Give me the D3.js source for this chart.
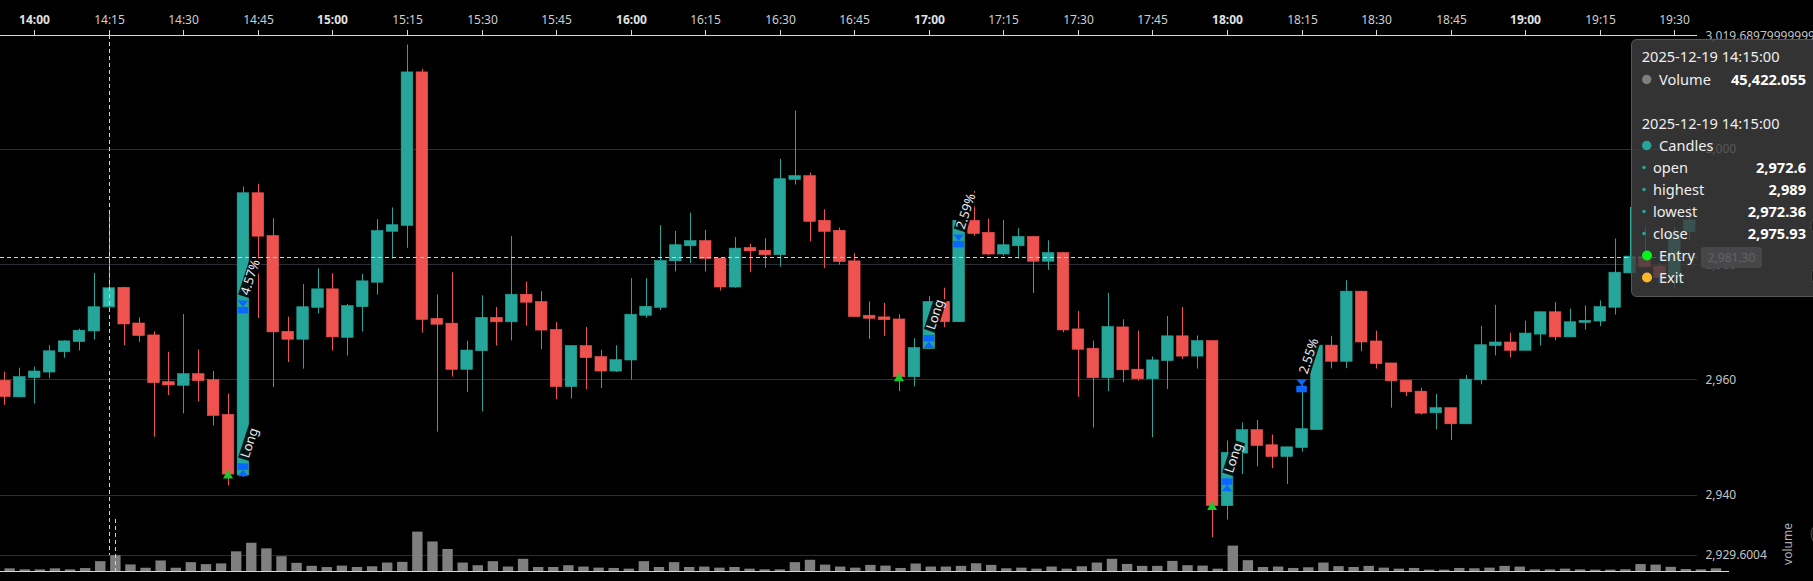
<!DOCTYPE html>
<html><head><meta charset="utf-8">
<script src="https://cdn.jsdelivr.net/npm/d3@7/dist/d3.min.js"></script>
<style>html,body{margin:0;padding:0;background:#000;overflow:hidden}svg{display:block;font-family:"Noto Sans","Open Sans",sans-serif}</style>
</head><body><svg id="c" width="1813" height="581"></svg>
<script>
// ---------- data ----------
const startTime = "2025-12-19 13:54:00";
const stepMinutes = 3;
const opens  = [2959.86,2956.98,2960.32,2961.29,2964.81,2966.59,2968.43,2972.6,2976.0,2969.81,
2967.74,2959.63,2958.99,2961.01,2959.97,2953.93,2943.45,2992.43,2985.0,2968.37,
2966.99,2972.52,2975.74,2967.32,2972.65,2976.89,2985.74,2986.76,3013.42,2970.61,
2969.78,2961.76,2964.99,2970.79,2970.01,2974.8,2973.54,2968.7,2958.77,2965.89,
2963.98,2961.46,2963.38,2971.15,2972.53,2980.6,2983.22,2984.12,2981.07,2976.06,
2982.93,2982.45,2981.67,2994.75,2995.4,2987.64,2985.91,2980.6,2971.16,2970.87,
2970.51,2960.48,2965.37,2973.55,2970.03,2987.64,2985.55,2981.79,2983.22,2984.84,
2980.54,2982.03,2968.78,2965.43,2960.3,2969.13,2961.79,2960.12,2963.28,2967.58,
2964.06,2966.75,2938.09,2947.22,2951.28,2948.66,2946.63,2948.18,2951.28,2965.97,
2963.16,2975.34,2966.69,2962.87,2959.88,2957.97,2954.21,2955.1,2952.3,2959.94,
2965.91,2966.51,2965.07,2967.88,2971.76,2967.4,2969.91,2970.15,2972.54,2978.51,
2981.37,2979.7,2977.8,2985.65];
const highs  = [2961.35,2962.04,2962.22,2965.96,2966.8,2968.83,2978.5,2989,2976.1,2970.79,
2968.37,2964.81,2971.37,2965.21,2961.47,2957.55,2993.5,2993.99,2988.0,2970.91,
2976.55,2979.31,2978.45,2973.12,2978.33,2987.83,2989.87,3018.18,3013.96,2974.74,
2978.62,2966.73,2974.62,2972.59,2984.9,2977.01,2975.34,2969.96,2965.95,2969.12,
2965.17,2965.95,2977.61,2977.61,2986.82,2985.79,2988.96,2985.97,2981.1,2984.72,
2983.58,2984.54,2998.33,3006.69,2995.94,2989.55,2986.39,2981.97,2973.55,2973.31,
2971.34,2967.16,2974.51,2975.94,2987.64,2992.72,2987.94,2987.7,2986.27,2984.96,
2984.18,2982.15,2971.88,2966.75,2975.04,2970.45,2968.48,2964.0,2971.04,2972.6,
2967.64,2966.8,2949.37,2952.54,2952.96,2950.45,2948.3,2959.1,2965.97,2967.58,
2977.25,2975.4,2968.48,2962.9,2959.9,2958.57,2957.49,2955.1,2960.78,2969.31,
2972.96,2968.12,2970.21,2971.8,2973.43,2972.3,2972.84,2973.73,2984.48,2989.97,
2986.57,2980.2,2986.5,2990.0];
const lows   = [2955.6,2956.9,2955.83,2960.2,2963.77,2965.04,2966.94,2972.36,2965.96,2966.53,
2950.07,2957.27,2954.1,2956.17,2952.03,2941.61,2943.05,2970.68,2958.7,2963.02,
2961.87,2971.48,2965.04,2964.16,2968.34,2974.74,2981.02,2982.87,2968.16,2950.94,
2960.51,2957.82,2954.47,2965.89,2966.79,2969.36,2965.23,2956.56,2956.68,2958.3,
2958.53,2961.3,2959.97,2970.73,2972.05,2978.75,2980.24,2978.75,2975.46,2975.94,
2978.63,2979.4,2979.58,2993.85,2984.0,2979.34,2979.94,2970.9,2967.04,2967.58,
2957.97,2958.81,2965.37,2969.07,2970.03,2984.96,2981.61,2981.5,2981.01,2975.04,
2979.04,2968.18,2957.01,2951.64,2957.97,2959.52,2959.82,2949.97,2958.33,2963.58,
2961.91,2932.6,2935.7,2943.58,2944.9,2944.6,2941.85,2947.46,2951.28,2961.91,
2961.97,2964.9,2961.91,2955.1,2957.13,2953.9,2951.34,2949.49,2952.3,2959.16,
2964.18,2963.88,2965.07,2965.91,2966.81,2967.4,2968.66,2969.25,2971.28,2978.5,
2979.3,2976.6,2975.7,2984.2];
const closes = [2957.04,2960.49,2961.47,2964.98,2966.7,2968.55,2972.63,2975.93,2969.64,2967.63,
2959.45,2959.05,2961.01,2959.8,2953.76,2943.57,2992.43,2984.89,2968.26,2966.99,
2972.63,2975.74,2967.4,2972.83,2977.13,2985.86,2986.88,3013.42,2970.43,2969.6,
2961.76,2965.11,2970.79,2970.01,2974.8,2973.42,2968.58,2958.77,2965.89,2963.8,
2961.46,2963.44,2971.33,2972.71,2980.66,2983.4,2984.12,2981.01,2976.06,2982.81,
2982.33,2981.67,2994.87,2995.4,2987.46,2985.73,2980.48,2970.93,2970.63,2970.39,
2960.48,2965.55,2973.55,2970.03,2987.64,2985.37,2981.79,2983.4,2984.84,2980.54,
2982.03,2968.6,2965.25,2960.3,2969.19,2961.67,2960.12,2963.4,2967.58,2964.06,
2966.75,2938.09,2947.34,2951.28,2948.54,2946.63,2948.3,2951.46,2965.97,2963.16,
2975.34,2966.51,2962.75,2959.76,2957.85,2954.15,2955.1,2952.3,2960.06,2966.03,
2966.51,2965.07,2968.06,2971.76,2967.4,2970.03,2970.27,2972.66,2978.63,2981.43,
2979.58,2977.75,2985.2,2987.7];
const volumes = [7700,4800,4800,7700,4800,8500,28400,45422.055,19000,9400,
30400,9400,25500,19900,21900,56800,81500,65300,42600,23600,
15000,11400,15600,11600,13600,24400,26400,113600,85200,63600,
24400,16700,28400,12800,35200,11600,11600,16700,12800,9700,
8800,6800,28400,11600,25500,11600,12800,9700,11600,6800,
4800,4800,25500,32400,18500,12800,9700,17600,15600,8800,
21600,12800,12800,14800,22400,17600,7900,9700,6800,12800,
6800,13600,24400,35200,20400,14800,14800,29200,16700,15600,
6800,73200,31200,11600,12800,8800,10800,24400,14000,11600,
14800,9700,6800,8800,4000,4000,8800,7900,9700,14800,
12800,4800,4800,6800,4800,4000,4000,5000,20000,18500,
12000,5700,4800,7700];
const tickLabels = ["14:00","14:15","14:30","14:45","15:00","15:15","15:30","15:45","16:00","16:15","16:30","16:45",
"17:00","17:15","17:30","17:45","18:00","18:15","18:30","18:45","19:00","19:15","19:30"];
const yTicks = [2940, 2960, 2980, 3000];
const yMin = 2929.6004, yMax = 3019.68979999999;
const volMax = 150000;
// trades
const signalIdx  = [15, 60, 81];
const entryIdx   = [16, 62, 82];
const entryPrice = [2944.3, 2966.6, 2941.7];
const exitIdx    = [16, 64, 87];
const exitPrice  = [2972.6, 2984.06, 2958.9];
const sideLabels = ["Long", "Long", "Long"];
const pnlLabels  = ["4.57%", "2.59%", "2.55%"];
// hover state
const hoverIdx = 7;
const hoverPrice = 2981.30;

// ---------- helpers ----------
const parse = d3.timeParse("%Y-%m-%d %H:%M:%S");
const fmtFull = d3.timeFormat("%Y-%m-%d %H:%M:%S");
const fmtHM = d3.timeFormat("%H:%M");
const t0 = parse(startTime);
const times = opens.map((_, i) => d3.timeMinute.offset(t0, i * stepMinutes));
function fmtNum(v){ const s = String(v).split("."); s[0] = s[0].replace(/\B(?=(\d{3})+(?!\d))/g, ","); return s.join("."); }

// ---------- scales ----------
const svg = d3.select("#c");
const xP = d3.scaleLinear().domain([-0.295, 113.52]).range([0, 1697]);
const xV = d3.scaleLinear().domain([-0.64, 113.86]).range([0, 1729]);
const yP = d3.scaleLinear().domain([yMin, yMax]).range([554.5, 35.8]);
const yV = d3.scaleLinear().domain([0, volMax]).range([571, 519]);
const UP = "#26a69a", DOWN = "#ef5350";

svg.append("rect").attr("width",1813).attr("height",581).attr("fill","#000");

// grid + y labels
const gridVals = yTicks.concat([yMin]);
svg.append("g").selectAll("line").data(gridVals).join("line")
  .attr("x1",0).attr("x2",1697).attr("y1",d=>Math.round(yP(d))+0.5).attr("y2",d=>Math.round(yP(d))+0.5)
  .attr("stroke","#2c2e36").attr("stroke-width",1);
svg.append("g").selectAll("text").data(gridVals.concat([yMax])).join("text")
  .attr("x",1705.5).attr("y",d=>yP(d)).attr("dy","0.35em")
  .attr("fill","#c4c4c4").attr("font-size",12).text(d=>fmtNum(d));

// volume
svg.append("g").selectAll("rect").data(volumes).join("rect")
  .attr("x",(d,i)=>xV(i)-5.2).attr("width",10.4)
  .attr("y",d=>yV(d)).attr("height",d=>yV(0)-yV(d)).attr("fill","#7f7f7f");
svg.append("line").attr("x1",0).attr("x2",1729).attr("y1",571.5).attr("y2",571.5).attr("stroke","#d8d8d8");
svg.append("text").attr("transform","translate(1792,544) rotate(-90)").attr("text-anchor","middle")
  .attr("fill","#b0b0b0").attr("font-size",12).text("volume");

// candles
const cg = svg.append("g");
opens.forEach((o,i)=>{
  const c = closes[i], up = c >= o;
  let col = up ? UP : DOWN;
  const x = xP(i);
  const hl = i === hoverIdx;
  if (hl) col = "#2fbcae";
  cg.append("line").attr("x1",Math.round(x)+0.5).attr("x2",Math.round(x)+0.5)
    .attr("y1",yP(highs[i])).attr("y2",yP(lows[i])).attr("stroke",col).attr("stroke-width",1);
  const y1 = yP(Math.max(o,c)), y2 = yP(Math.min(o,c));
  cg.append("rect").attr("x",x-5.8).attr("width",11.6).attr("y",y1).attr("height",Math.max(1.2,y2-y1))
    .attr("fill",col).attr("stroke",hl?"#1d7d74":col).attr("stroke-width",hl?1:0.6);
});

// trade signals
const mg = svg.append("g");
signalIdx.forEach(i=>{
  const x = xP(i), y = yP(closes[i]);
  mg.append("path").attr("d",`M${x},${y-4.5}L${x+5},${y+4.5}L${x-5},${y+4.5}Z`).attr("fill","#18c92e");
});
const BLUE = "#0b66ff";
function addLabel(x, yTop, txt){
  const g = mg.append("g").attr("transform",`translate(${x+7},${yTop-2}) rotate(-72)`);
  const r = g.append("rect").attr("x",0).attr("y",-12.5).attr("height",13).attr("fill","#000").attr("fill-opacity",0.88);
  const t = g.append("text").attr("x",2).attr("y",-2).attr("fill","#e8e8e8").attr("font-size",13).text(txt);
  r.attr("width", t.node().getComputedTextLength()+4);
}
entryIdx.forEach((i,k)=>{
  const x = xP(i), y = yP(entryPrice[k]);
  mg.append("rect").attr("x",x-5.3).attr("y",y-6.5).attr("width",10.6).attr("height",6.5).attr("fill",BLUE);
  mg.append("path").attr("d",`M${x},${y}L${x+5.3},${y+6.5}L${x-5.3},${y+6.5}Z`).attr("fill",BLUE);
  addLabel(x, y-6.5, sideLabels[k]);
});
exitIdx.forEach((i,k)=>{
  const x = xP(i), y = yP(exitPrice[k]);
  mg.append("path").attr("d",`M${x-5.3},${y-6.5}L${x+5.3},${y-6.5}L${x},${y}Z`).attr("fill",BLUE);
  mg.append("rect").attr("x",x-5.3).attr("y",y).attr("width",10.6).attr("height",6.5).attr("fill",BLUE);
  addLabel(x, y-6.5, pnlLabels[k]);
});

// crosshair
const hx = Math.round(xP(hoverIdx))+0.5, hy = Math.round(yP(hoverPrice))+0.5;
svg.append("line").attr("x1",hx).attr("x2",hx).attr("y1",35).attr("y2",555)
  .attr("stroke","#d0d0d0").attr("stroke-dasharray","4,3");
const vx = Math.round(xV(hoverIdx))+0.5;
svg.append("line").attr("x1",vx).attr("x2",vx).attr("y1",yV.range()[1]).attr("y2",571)
  .attr("stroke","#d0d0d0").attr("stroke-dasharray","4,3");
svg.append("line").attr("x1",0).attr("x2",1697).attr("y1",hy).attr("y2",hy)
  .attr("stroke","#d0d0d0").attr("stroke-dasharray","4,3");

// time axis
const ag = svg.append("g");
ag.append("line").attr("x1",0).attr("x2",1697).attr("y1",35.5).attr("y2",35.5).attr("stroke","#d8d8d8");
const tickIdx = tickLabels.map(l => times.findIndex(t => fmtHM(t) === l));
tickLabels.forEach((l,k)=>{
  const x = Math.round(xP(tickIdx[k]))+0.5;
  ag.append("line").attr("x1",x).attr("x2",x).attr("y1",30).attr("y2",35).attr("stroke","#d8d8d8");
  const bold = l.endsWith(":00");
  ag.append("text").attr("x",x).attr("y",24).attr("text-anchor","middle")
    .attr("fill", bold ? "#e0e0e0" : "#cfcfcf").attr("font-size",12).attr("font-weight",bold?700:400).text(l);
});

// pointer label
svg.append("rect").attr("x",1701).attr("y",hy-10.5).attr("width",61).attr("height",21).attr("rx",3).attr("fill","#6E7079");
svg.append("text").attr("x",1731.5).attr("y",hy).attr("dy","0.35em").attr("text-anchor","middle")
  .attr("fill","#fff").attr("font-size",12).text(d3.format(",.2f")(hoverPrice));

// tooltip
const tg = svg.append("g").attr("font-size",14.6);
tg.append("rect").attr("x",1631.5).attr("y",39.5).attr("width",210).attr("height",257).attr("rx",5)
  .attr("fill","rgb(62,62,62)").attr("fill-opacity",0.82).attr("stroke","#575757");
const L = 1641.7, R = 1806;
tg.append("text").attr("x",L).attr("y",62).attr("fill","#eee").text(fmtFull(times[hoverIdx]));
tg.append("circle").attr("cx",1646.7).attr("cy",79.5).attr("r",4.7).attr("fill","#7f7f7f");
tg.append("text").attr("x",1659).attr("y",84.5).attr("fill","#eee").text("Volume");
tg.append("text").attr("x",R).attr("y",84.5).attr("text-anchor","end").attr("fill","#fff").attr("font-weight",700)
  .text(d3.format(",")(volumes[hoverIdx]));
tg.append("text").attr("x",L).attr("y",128.5).attr("fill","#eee").text(fmtFull(times[hoverIdx]));
tg.append("circle").attr("cx",1646.7).attr("cy",145.5).attr("r",4.7).attr("fill",UP);
tg.append("text").attr("x",1659).attr("y",150.5).attr("fill","#eee").text("Candles");
const rows = [["open",opens[hoverIdx]],["highest",highs[hoverIdx]],["lowest",lows[hoverIdx]],["close",closes[hoverIdx]]];
rows.forEach((r,k)=>{
  const cy = 167.5 + k*22;
  tg.append("circle").attr("cx",1644).attr("cy",cy).attr("r",1.8).attr("fill",UP);
  tg.append("text").attr("x",1653).attr("y",cy+5).attr("fill","#eee").text(r[0]);
  tg.append("text").attr("x",R).attr("y",cy+5).attr("text-anchor","end").attr("fill","#fff").attr("font-weight",700).text(fmtNum(r[1]));
});
[["Entry","#00f51a"],["Exit","#fbb829"]].forEach((r,k)=>{
  const cy = 255.5 + k*22;
  tg.append("circle").attr("cx",1647).attr("cy",cy).attr("r",5).attr("fill",r[1]);
  tg.append("text").attr("x",1659).attr("y",cy+5).attr("fill","#eee").text(r[0]);
});

// right-edge handles
[226, 276, 534].forEach(cy=>{
  svg.append("circle").attr("cx",1823).attr("cy",cy).attr("r",12).attr("fill","#1e1e1e").attr("stroke","#444");
});
</script></body></html>
